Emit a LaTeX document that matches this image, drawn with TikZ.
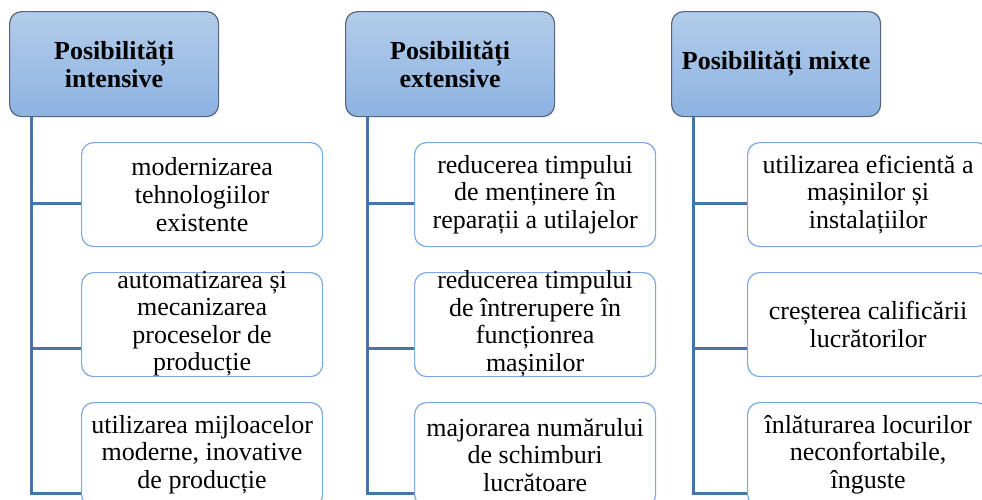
\documentclass[tikz,border=0pt]{standalone}
\usepackage{fontspec}
\setmainfont{Liberation Serif}
\definecolor{hdrtop}{HTML}{B3CCEA}
\definecolor{hdrbot}{HTML}{8DB3E2}
\definecolor{hdrborder}{HTML}{56657A}
\definecolor{itemborder}{HTML}{7BA9E0}
\definecolor{conncol}{HTML}{4474A8}
\begin{document}
\begin{tikzpicture}[x=1pt,y=-1pt,
  hdr/.style={draw=hdrborder, line width=1.2pt, rounded corners=12pt, top color=hdrtop, bottom color=hdrbot,
    minimum width=209pt, minimum height=105pt, align=center, inner sep=2pt,
    font=\fontsize{26}{28}\selectfont\bfseries, anchor=north west},
  itembox/.style={draw=itemborder, line width=1.2pt, rounded corners=12pt, fill=white,
    minimum width=241pt, minimum height=104pt, anchor=north west, inner sep=0pt},
  itemtext/.style={align=center, inner sep=0pt, font=\fontsize{26}{27.5}\selectfont},
  conn/.style={draw=conncol, line width=3pt}]
\clip (0,0) rectangle (982,499);
\fill[white] (0,0) rectangle (982,499);

% headers
\node[hdr] (h1) at (9,11) {Posibilități\\intensive};
\node[hdr] (h2) at (345,11) {Posibilități\\extensive};
\node[hdr] (h3) at (671,11) {Posibilități mixte};

% column 1
\node[itembox] (b11) at (81,142) {};
\node[itembox] (b12) at (81,272) {};
\node[itembox] (b13) at (81,402) {};
\node[itemtext] (t11) at (b11.center) {modernizarea\\tehnologiilor\\existente};
\node[itemtext] (t12) at ([yshift=1pt]b12.center) {automatizarea și\\mecanizarea\\proceselor de\\producție};
\node[itemtext] (t13) at (b13.center) {utilizarea mijloacelor\\moderne, inovative\\de producție};

% column 2
\node[itembox] (b21) at (414,142) {};
\node[itembox] (b22) at (414,272) {};
\node[itembox] (b23) at (414,402) {};
\node[itemtext] (t21) at (b21.center) {reducerea timpului\\de menținere în\\reparații a utilajelor};
\node[itemtext] (t22) at ([yshift=1pt]b22.center) {reducerea timpului\\de întrerupere în\\funcționrea\\mașinilor};
\node[itemtext] (t23) at (b23.center) {majorarea numărului\\de schimburi\\lucrătoare};

% column 3
\node[itembox] (b31) at (747,142) {};
\node[itembox] (b32) at (747,272) {};
\node[itembox] (b33) at (747,402) {};
\node[itemtext] (t31) at (b31.center) {utilizarea eficientă a\\mașinilor și\\instalațiilor};
\node[itemtext] (t32) at (b32.center) {creșterea calificării\\lucrătorilor};
\node[itemtext] (t33) at (b33.center) {înlăturarea locurilor\\neconfortabile,\\înguste};

% connectors
\foreach \c in {1,2,3}{
  \draw[conn] ([xshift=22pt]h\c.south west) |- ([yshift=-61pt]b\c1.north west);
  \draw[conn] ([xshift=22pt]h\c.south west) |- ([yshift=-76pt]b\c2.north west);
  \draw[conn] ([xshift=22pt]h\c.south west) |- ([yshift=-91pt]b\c3.north west);
}
\end{tikzpicture}
\end{document}
